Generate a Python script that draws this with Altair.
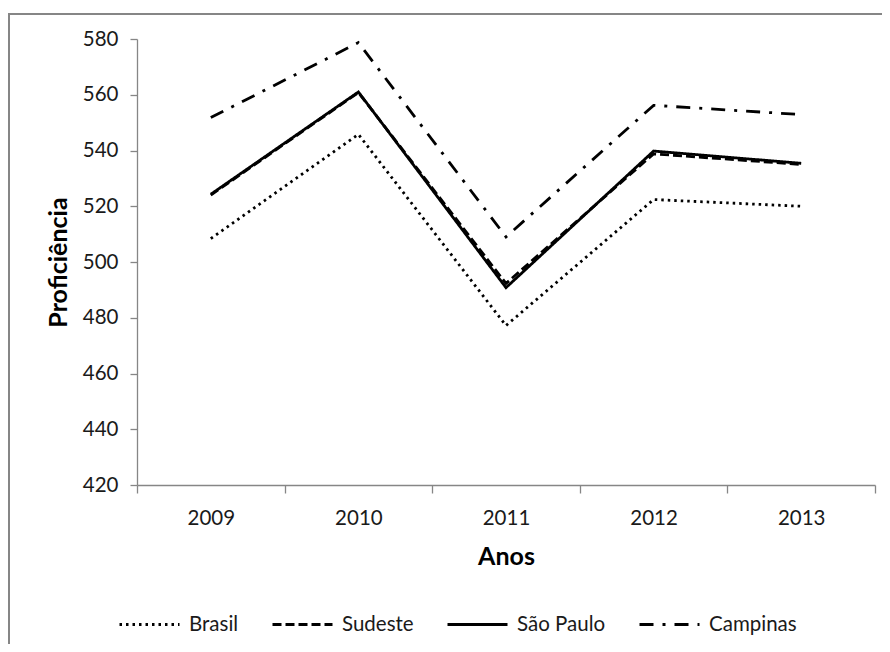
import altair as alt
import pandas as pd

years = ["2009", "2010", "2011", "2012", "2013"]
series = ["Brasil", "Sudeste", "São Paulo", "Campinas"]
brasil = [508.4, 545.8, 477.2, 522.4, 520.0]
sudeste = [524.0, 560.8, 492.3, 538.8, 535.0]
sao_paulo = [524.3, 561.0, 490.8, 539.8, 535.4]
campinas = [551.8, 578.7, 509.0, 556.2, 552.9]
y_ticks = [420, 440, 460, 480, 500, 520, 540, 560, 580]

values = {"Brasil": brasil, "Sudeste": sudeste, "São Paulo": sao_paulo, "Campinas": campinas}
rows = []
for i, s in enumerate(series):
    for y, v in zip(years, values[s]):
        rows.append({"Ano": y, "Série": s, "Valor": v, "ordem": i})
df = pd.DataFrame(rows)

W, H = 738, 446
FONT = "Lato"
AXIS_GRAY = "#868686"
TEXT = "#1a1a1a"

dashes = [[2.5, 4], [9, 4], [1, 0], [14, 9, 3, 9]]

lines = alt.Chart(df).mark_line(color="black", strokeWidth=2.8, strokeCap="butt", strokeJoin="miter").encode(
    x=alt.X("Ano:O",
            scale=alt.Scale(type="band", domain=years, paddingInner=0, paddingOuter=0),
            bandPosition=0.5,
            axis=alt.Axis(title="Anos", labelAngle=0, tickBand="extent", tickSize=8,
                          labelPadding=15, titlePadding=16)),
    y=alt.Y("Valor:Q",
            scale=alt.Scale(domain=[420, 580], nice=False, zero=False),
            axis=alt.Axis(title="Proficiência", values=y_ticks, tickSize=7, labelPadding=12,
                          titlePadding=11, grid=False)),
    strokeDash=alt.StrokeDash("Série:N",
                              scale=alt.Scale(domain=series, range=dashes),
                              legend=alt.Legend(orient="none", legendX=-19, legendY=554,
                                                direction="horizontal", title=None,
                                                symbolType="stroke", symbolSize=3600,
                                                symbolStrokeWidth=3, symbolStrokeColor="black",
                                                labelFontSize=20.5, labelFont=FONT, labelColor=TEXT,
                                                labelOffset=8, columnPadding=27, padding=0)),
    order=alt.Order("ordem:Q"),
    detail="Série:N",
)

frame_left = alt.Chart(alt.Data(values=[{}])).mark_rule(color=AXIS_GRAY, strokeWidth=2).encode(
    x=alt.value(-128), y=alt.value(-26), y2=alt.value(H + 200))
frame_top = alt.Chart(alt.Data(values=[{}])).mark_rule(color=AXIS_GRAY, strokeWidth=2).encode(
    x=alt.value(-129), x2=alt.value(W + 20), y=alt.value(-25))

chart = alt.layer(frame_left, frame_top, lines).properties(
    width=W, height=H,
    autosize=alt.AutoSizeParams(type="none"),
    padding={"left": 129, "top": 31, "right": 7, "bottom": 159},
    background="white",
).configure_view(stroke=None).configure_axis(
    labelFont=FONT, labelFontSize=20.5, labelColor=TEXT,
    titleFont=FONT, titleFontSize=25, titleFontWeight="bold", titleColor="black",
    domainColor=AXIS_GRAY, tickColor=AXIS_GRAY, domainWidth=1.3, tickWidth=1.3,
).configure_legend(labelFont=FONT)

chart.save("out.html", embed_options={"renderer": "svg", "actions": False})
